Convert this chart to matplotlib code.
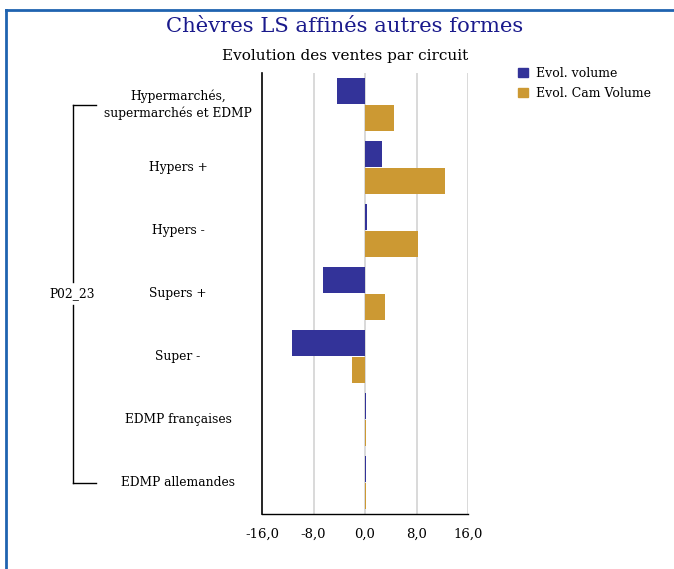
import matplotlib
matplotlib.use("Agg")
import matplotlib.pyplot as plt
from matplotlib.lines import Line2D
from matplotlib.patches import Patch
import numpy as np

categories = ["Hypermarchés,\nsupermarchés et EDMP", "Hypers +", "Hypers -", "Supers +",
              "Super -", "EDMP françaises", "EDMP allemandes"]
evol_volume = [-4.3, 2.6, 0.3, -6.5, -11.3, 0.15, 0.15]
evol_cam_volume = [4.5, 12.4, 8.2, 3.1, -2.0, 0.1, 0.1]
xticks = [-16, -8, 0, 8, 16]
xtick_labels = ["-16,0", "-8,0", "0,0", "8,0", "16,0"]
group_label = "P02_23"
series_names = ["Evol. volume", "Evol. Cam Volume"]

C_VOL = "#333399"
C_CAM = "#CC9933"
FONT = "DejaVu Serif"
plt.rcParams['font.family'] = [FONT]

W, H = 674, 569
fig = plt.figure(figsize=(W/100, H/100), dpi=100)
ax = fig.add_axes([262/W, 1-514/H, 206/W, (514-73)/H])

y = np.arange(len(categories))
bh = 0.41
ax.barh(y - 0.215, evol_volume, height=bh, color=C_VOL, zorder=3)
ax.barh(y + 0.215, evol_cam_volume, height=bh, color=C_CAM, zorder=3)

ax.set_xlim(-16, 16)
ax.set_ylim(len(categories)-0.5, -0.5)
ax.set_xticks(xticks)
ax.set_xticklabels(xtick_labels, fontsize=9.5)
ax.tick_params(axis='x', length=0, pad=10)
ax.set_yticks([])
for s in ["top", "right"]:
    ax.spines[s].set_visible(False)
ax.spines["left"].set_color("black")
ax.spines["bottom"].set_color("black")
ax.spines["left"].set_linewidth(1.2)
ax.spines["bottom"].set_linewidth(1.0)
for xv in xticks[1:]:
    ax.axvline(xv, color="#d3d3d3", lw=1.2, zorder=1)

tr = ax.get_yaxis_transform()
lab_x = (178-262)/206
for yi, lab in zip(y, categories):
    ax.text(lab_x, yi, lab, transform=tr, ha="center", va="center", fontsize=8.8,
            linespacing=1.3, clip_on=False)

# bracket
bx = (72.5-262)/206
bx2 = (96-262)/206
gap = 11.5/63
kw = dict(transform=tr, color="black", lw=1.0, clip_on=False)
ax.add_line(Line2D([bx, bx], [0, 3-gap], **kw))
ax.add_line(Line2D([bx, bx], [3+gap, 6], **kw))
ax.add_line(Line2D([bx, bx2], [0, 0], **kw))
ax.add_line(Line2D([bx, bx2], [6, 6], **kw))
ax.text(bx, 3, group_label, transform=tr, ha="center", va="center", fontsize=8.8, clip_on=False)

# titles
fig.text(345/W, 1-27/H, "Chèvres LS affinés autres formes", ha="center", va="center",
         fontsize=15.2, color="#1a1a8c")
fig.text(345/W, 1-56/H, "Evolution des ventes par circuit", ha="center", va="center",
         fontsize=11, color="black")

# legend
handles = [Patch(color=C_VOL), Patch(color=C_CAM)]
fig.legend(handles, series_names, loc="upper left", bbox_to_anchor=(518/W, 1-67/H),
           frameon=False, fontsize=9, handlelength=0.8, handleheight=0.8,
           handletextpad=0.6, labelspacing=0.55, borderpad=0, borderaxespad=0)

# border
bc = "#1f63b0"
fig.add_artist(Line2D([6/W, 6/W], [0, 1-9.5/H], transform=fig.transFigure, color=bc, lw=2))
fig.add_artist(Line2D([6/W, 1], [1-9.5/H, 1-9.5/H], transform=fig.transFigure, color=bc, lw=2))

fig.savefig("out.png", dpi=100)
